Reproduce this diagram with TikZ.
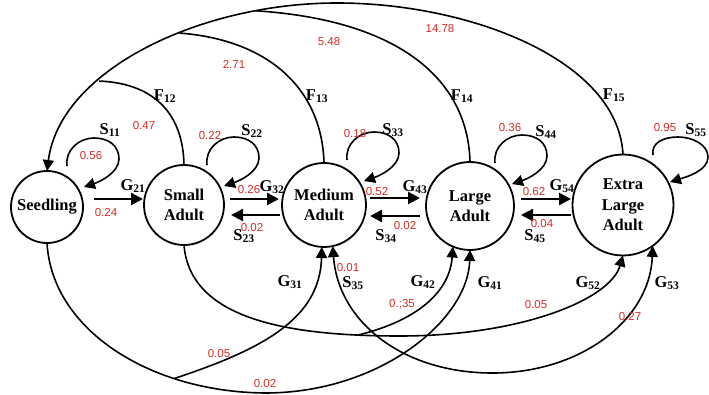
\documentclass[tikz,border=0pt]{standalone}
\usepackage{fontspec}
\setmainfont{Liberation Serif}
\newfontfamily\numfont{Liberation Sans}
\usetikzlibrary{arrows.meta}
\definecolor{numred}{RGB}{212,44,38}
\newcommand\myloop[3]{\draw[conn] ([shift={(#2,#3)}]#1.center) .. controls +(-2,-16) and +(-15,0) .. ++(27,-28) .. controls +(15,0) and +(0,-13) .. ++(25,21) .. controls +(0,14) and +(15,-5) .. ++(-35,28);}
\begin{document}
\begin{tikzpicture}[x=1pt,y=-1pt,
  state/.style={draw, circle, line width=1.8pt, inner sep=0pt, outer sep=0pt, align=center, font=\fontsize{16.5}{20.5}\selectfont\bfseries},
  lbl/.style={font=\fontsize{16.5}{19}\selectfont\bfseries, inner sep=0pt},
  num/.style={font=\numfont\fontsize{11.5}{13}\selectfont, text=numred, inner sep=0pt},
  line/.style={line width=1.6pt},
  conn/.style={line width=1.6pt, -{Triangle[length=11pt,width=11pt]}},
  conntwo/.style={line width=1.6pt, {Triangle[length=11pt,width=11pt]}-{Triangle[length=11pt,width=11pt]}},
  harr/.style={line width=2.4pt, -{Triangle[length=12pt,width=12pt]}}
]
\useasboundingbox (0,0) rectangle (709,395);

% states
\node[state, minimum size=72pt] (seed) at (47,207) {Seedling};
\node[state, minimum size=80pt] (small) at (184,205) {Small\\Adult};
\node[state, minimum size=84pt] (med) at (324,205) {Medium\\Adult};
\node[state, minimum size=88pt] (large) at (470,206) {Large\\Adult};
\node[state, minimum size=101pt] (xl) at (623,205) {Extra\\Large\\Adult};

% horizontal arrows
\draw[harr] ([shift={(47,-8)}]seed.center) -- ([shift={(-41,-6)}]small.center);
\draw[harr] ([shift={(46,-6)}]small.center) -- ([shift={(-45,-6)}]med.center);
\draw[harr] ([shift={(-44,10)}]med.center) -- ([shift={(47,10)}]small.center);
\draw[harr] ([shift={(46,-7)}]med.center) -- ([shift={(-50,-8)}]large.center);
\draw[harr] ([shift={(-50,10)}]large.center) -- ([shift={(46,11)}]med.center);
\draw[harr] ([shift={(51,-7)}]large.center) -- ([shift={(-52,-6)}]xl.center);
\draw[harr] ([shift={(-52,10)}]xl.center) -- ([shift={(51,9)}]large.center);

% self loops
\myloop{seed}{20}{-41}
\myloop{small}{23}{-40}
\myloop{med}{23}{-45}
\myloop{large}{25}{-43}
\draw[conn] ([shift={(30,-50)}]xl.center) .. controls +(-2,-12) and +(-15,0) .. ++(25,-18) .. controls +(15,0) and +(0,-12) .. ++(30,20) .. controls +(0,14) and +(16,-5) .. ++(-38,25);

% fecundity arcs
\draw[conn] (xl.north) .. controls (618,60) and (470,3) .. (337,3)
  .. controls (200,3) and (60,70) .. (seed.north)
  coordinate[pos=0.2] (j4) coordinate[pos=0.4] (j3) coordinate[pos=0.66] (j2);
\draw[line] (large.north) .. controls (468,80) and (400,20) .. (j4);
\draw[line] (med.north) .. controls (322,90) and (270,40) .. (j3);
\draw[line] (small.north) .. controls (183,110) and (150,83) .. (j2);

% lower curves
\draw[conn] (seed.south) .. controls (52,330) and (150,392) .. (265,393) coordinate[pos=0.72] (j31)
  .. controls (380,393) and (468,320) .. (large.south);
\draw[conn] (j31) .. controls (260,350) and (320,320) .. (med.-93);
\draw[conn] (small.south) .. controls (190,320) and (290,336) .. (400,336) coordinate[pos=0.87] (j42)
  .. controls (520,336) and (610,300) .. (xl.south);
\draw[conn] (j42) .. controls (420,320) and (450,290) .. (large.-113);
\draw[conntwo] (med.-78) .. controls (338,320) and (400,372) .. (490,373)
  .. controls (580,374) and (650,320) .. (xl.-54);

% black labels
\node[lbl] (lF12) at (165,96) {F\textsubscript{12}};
\node[lbl] (lF13) at (317,96) {F\textsubscript{13}};
\node[lbl] (lF14) at (462,96) {F\textsubscript{14}};
\node[lbl] (lF15) at (614,95) {F\textsubscript{15}};
\node[lbl] (lS11) at (110,130) {S\textsubscript{11}};
\node[lbl] (lS22) at (252,131) {S\textsubscript{22}};
\node[lbl] (lS33) at (393,130) {S\textsubscript{33}};
\node[lbl] (lS44) at (546,132) {S\textsubscript{44}};
\node[lbl] (lS55) at (696,130) {S\textsubscript{55}};
\node[lbl] (lG21) at (133,186) {G\textsubscript{21}};
\node[lbl] (lG32) at (272,187) {G\textsubscript{32}};
\node[lbl] (lG43) at (415,187) {G\textsubscript{43}};
\node[lbl] (lG54) at (562,186) {G\textsubscript{54}};
\node[lbl] (lS23) at (244,236) {S\textsubscript{23}};
\node[lbl] (lS34) at (386,236) {S\textsubscript{34}};
\node[lbl] (lS45) at (535,236) {S\textsubscript{45}};
\node[lbl] (lG31) at (290,282) {G\textsubscript{31}};
\node[lbl] (lS35) at (353,283) {S\textsubscript{35}};
\node[lbl] (lG42) at (423,282) {G\textsubscript{42}};
\node[lbl] (lG41) at (490,283) {G\textsubscript{41}};
\node[lbl] (lG52) at (588,283) {G\textsubscript{52}};
\node[lbl] (lG53) at (667,283) {G\textsubscript{53}};

% red numbers
\node[num] (n1) at (144,126) {0.47};
\node[num] (n2) at (234,64) {2.71};
\node[num] (n3) at (329,42) {5.48};
\node[num] (n4) at (440,29) {14.78};
\node[num] (n5) at (91,156) {0.56};
\node[num] (n6) at (210,136) {0.22};
\node[num] (n7) at (355,134) {0.18};
\node[num] (n8) at (510,128) {0.36};
\node[num] (n9) at (665,128) {0.95};
\node[num] (n10) at (106,213) {0.24};
\node[num] (n11) at (249,190) {0.26};
\node[num] (n12) at (252,228) {0.02};
\node[num] (n13) at (377,192) {0.52};
\node[num] (n14) at (405,226) {0.02};
\node[num] (n15) at (534,192) {0.62};
\node[num] (n16) at (542,224) {0.04};
\node[num] (n17) at (219,354) {0.05};
\node[num] (n18) at (265,384) {0.02};
\node[num] (n19) at (348,268) {0.01};
\node[num] (n20) at (402,304) {0.;35};
\node[num] (n21) at (536,305) {0.05};
\node[num] (n22) at (630,317) {0.27};
\end{tikzpicture}
\end{document}
